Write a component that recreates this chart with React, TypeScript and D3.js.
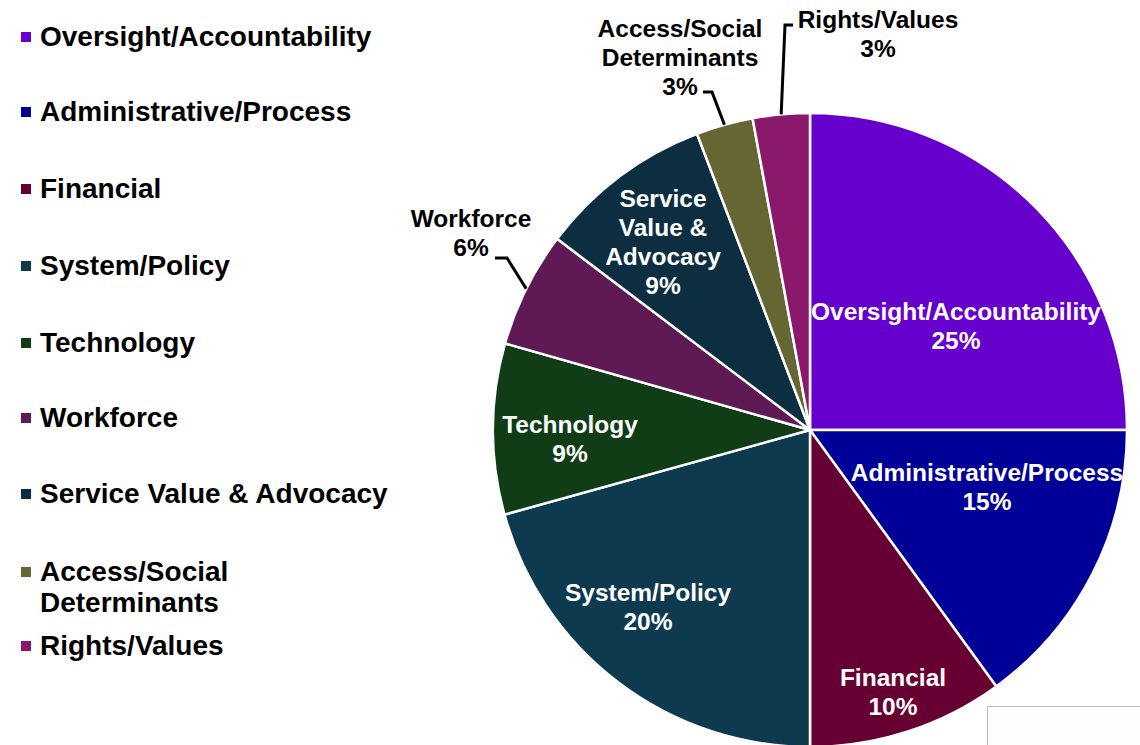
import React from "react";
import * as d3 from "d3";

const categories = [
  "Oversight/Accountability",
  "Administrative/Process",
  "Financial",
  "System/Policy",
  "Technology",
  "Workforce",
  "Service Value & Advocacy",
  "Access/Social Determinants",
  "Rights/Values",
];
const values = [25, 15, 10, 20.7, 8.7, 5.9, 8.9, 2.9, 2.9];
const pctLabels = ["25%", "15%", "10%", "20%", "9%", "6%", "9%", "3%", "3%"];
const colors = [
  "#6600CC",
  "#000099",
  "#660033",
  "#0E3A4F",
  "#103D16",
  "#5F1A55",
  "#0C2E40",
  "#666633",
  "#8A186B",
];
const legendLines = [
  ["Oversight/Accountability"],
  ["Administrative/Process"],
  ["Financial"],
  ["System/Policy"],
  ["Technology"],
  ["Workforce"],
  ["Service Value & Advocacy"],
  ["Access/Social", "Determinants"],
  ["Rights/Values"],
];
const sliceLabelLines = [
  ["Oversight/Accountability"],
  ["Administrative/Process"],
  ["Financial"],
  ["System/Policy"],
  ["Technology"],
  ["Workforce"],
  ["Service", "Value &", "Advocacy"],
  ["Access/Social", "Determinants"],
  ["Rights/Values"],
];

// layout (not data)
const W = 1140;
const H = 745;
const CX = 810;
const CY = 430;
const R = 317;
const FONT = "'Liberation Sans', Arial, Helvetica, sans-serif";
const legendY = [36, 111, 188, 265, 342, 417, 493, 571, 645];
// label block centers relative to pie center; outside = leader line
const labelLayout = [
  { dx: 146, dy: -104, inside: true },
  { dx: 177, dy: 57, inside: true },
  { dx: 83, dy: 262, inside: true },
  { dx: -162, dy: 177, inside: true },
  { dx: -240, dy: 9, inside: true },
  { dx: -339, dy: -197, inside: false, elbow: [-303, -172], end: [-315, -172] },
  { dx: -147, dy: -188, inside: true },
  { dx: -130, dy: -372, inside: false, elbow: [-98, -338], end: [-107, -338] },
  { dx: 68, dy: -396, inside: false, elbow: [-25, -405], end: [-17, -405] },
];

export default function App() {
  const pie = d3
    .pie<number>()
    .sort(null)
    .value((d) => d)
    .startAngle(0)
    .endAngle(2 * Math.PI);
  const arcs = pie(values);
  const arc = d3.arc<d3.PieArcDatum<number>>().innerRadius(0).outerRadius(R);
  const edgeArc = d3.arc<d3.PieArcDatum<number>>().innerRadius(R).outerRadius(R);

  const lineH = 29;
  return (
    <svg
      width={W}
      height={H}
      style={{ position: "absolute", left: 0, top: 0, background: "#fff" }}
      fontFamily={FONT}
      fontWeight="bold"
    >
      {/* legend */}
      {categories.map((c, i) => (
        <g key={c}>
          <rect x={21} y={legendY[i] - 4} width={10} height={10} fill={colors[i]} />
          {legendLines[i].map((t, j) => (
            <text key={j} x={40} y={legendY[i] + 10 + j * 31} fontSize={28} fill="#000">
              {t}
            </text>
          ))}
        </g>
      ))}

      {/* pie */}
      <g transform={`translate(${CX},${CY})`}>
        {arcs.map((a, i) => (
          <path key={i} d={arc(a) || ""} fill={colors[i]} stroke="#fff" strokeWidth={2.5} />
        ))}
        {arcs.map((a, i) => {
          const L = labelLayout[i];
          const lines = [...sliceLabelLines[i], pctLabels[i]];
          const top = L.dy - ((lines.length - 1) * lineH) / 2;
          let leader = null;
          if (!L.inside && L.elbow && L.end) {
            const [sx, sy] = edgeArc.centroid(a);
            leader = (
              <polyline
                points={`${sx},${sy} ${L.elbow[0]},${L.elbow[1]} ${L.end[0]},${L.end[1]}`}
                fill="none"
                stroke="#000"
                strokeWidth={3}
              />
            );
          }
          return (
            <g key={"l" + i}>
              {leader}
              {lines.map((t, j) => (
                <text
                  key={j}
                  x={L.dx}
                  y={top + j * lineH + 8}
                  textAnchor="middle"
                  fontSize={24.5}
                  fill={L.inside ? "#fff" : "#000"}
                >
                  {t}
                </text>
              ))}
            </g>
          );
        })}
      </g>

      {/* stray box bottom-right */}
      <rect x={987.5} y={706.5} width={200} height={60} fill="#fdfdfd" stroke="#bcbcbc" strokeWidth={1} />
    </svg>
  );
}
